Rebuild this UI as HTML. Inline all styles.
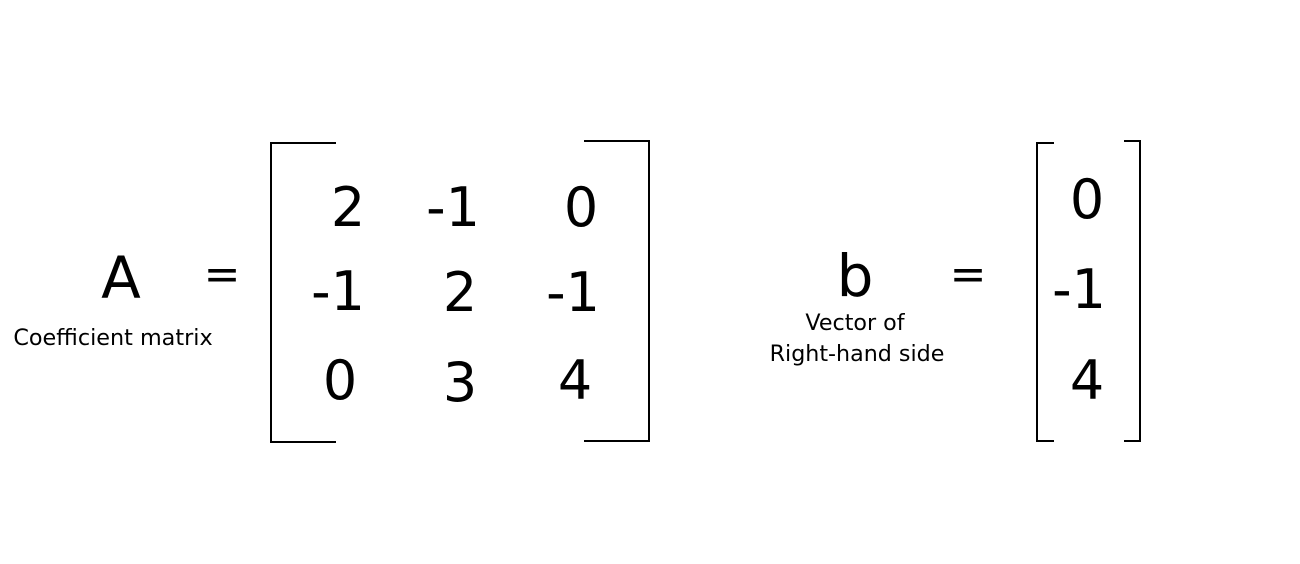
<!DOCTYPE html>
<html><head><meta charset="utf-8"><style>
html,body{margin:0;padding:0;background:#fff;}
svg{display:block;font-family:"DejaVu Sans","Liberation Sans",sans-serif;}
</style></head><body>
<svg width="1300" height="564" viewBox="0 0 1300 564">
<g fill="#000" text-anchor="middle">
<text x="121" y="298" font-size="58">A</text>
<text x="113" y="345" font-size="22.3">Coefficient matrix</text>
<text x="222" y="289" font-size="44">=</text>
<g font-size="54">
<text x="348" y="226">2</text>
<text x="453" y="226">-1</text>
<text x="581" y="226">0</text>
<text x="338" y="310">-1</text>
<text x="460" y="311">2</text>
<text x="573" y="311">-1</text>
<text x="340" y="399">0</text>
<text x="460" y="401">3</text>
<text x="575" y="399">4</text>
</g>
<text x="855" y="296" font-size="58">b</text>
<text x="855" y="330" font-size="22.2">Vector of</text>
<text x="857" y="361" font-size="22.2">Right-hand side</text>
<text x="968" y="289" font-size="44">=</text>
<g font-size="54">
<text x="1087" y="218">0</text>
<text x="1079" y="308">-1</text>
<text x="1087" y="399">4</text>
</g>
</g>
<g fill="none" stroke="#000" stroke-width="2">
<polyline points="336,143 271,143 271,442 336,442"/>
<polyline points="584,141 649,141 649,441 584,441"/>
<polyline points="1054,143 1037,143 1037,441 1054,441"/>
<polyline points="1124,141 1140,141 1140,441 1124,441"/>
</g>
</svg>
</body></html>
